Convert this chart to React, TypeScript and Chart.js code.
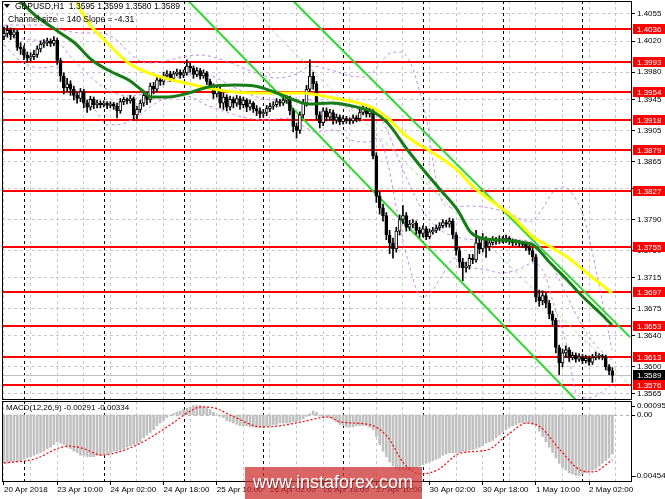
import React, { useEffect, useRef } from 'react';
import { Chart, registerables } from 'chart.js';

Chart.register(...registerables);

const FONT = '"Liberation Sans", Arial, sans-serif';
Chart.defaults.font.family = FONT;
Chart.defaults.font.size = 8;
Chart.defaults.color = '#000';

// GBPUSD H1, bar 0 = 20 Apr 2018 18:00, last bar = 2 May 09:00
const opens = [
  1.4026, 1.4030, 1.4034, 1.4028, 1.4032, 1.4012, 1.4010, 1.4002, 1.3998, 1.4000,
  1.4003, 1.4010, 1.4016, 1.4018, 1.4020, 1.4017, 1.4021, 1.3995, 1.3975, 1.3960,
  1.3965, 1.3958, 1.3950, 1.3946, 1.3955, 1.3940, 1.3935, 1.3945, 1.3938, 1.3940,
  1.3938, 1.3940, 1.3937, 1.3939, 1.3936, 1.3930, 1.3942, 1.3945, 1.3943, 1.3946,
  1.3925, 1.3932, 1.3940, 1.3950, 1.3945, 1.3962, 1.3958, 1.3970, 1.3968, 1.3975,
  1.3978, 1.3972, 1.3978, 1.3980, 1.3976, 1.3979, 1.3988, 1.3985, 1.3977, 1.3982,
  1.3975, 1.3979, 1.3968, 1.3962, 1.3952, 1.3958, 1.3940, 1.3948, 1.3935, 1.3945,
  1.3940, 1.3946, 1.3938, 1.3944, 1.3935, 1.3940, 1.3933, 1.3930, 1.3926, 1.3928,
  1.3933, 1.3936, 1.3938, 1.3942, 1.3940, 1.3944, 1.3946, 1.3930, 1.3910, 1.3905,
  1.3925, 1.3940, 1.3958, 1.3975, 1.3965, 1.3925, 1.3915, 1.3930, 1.3922, 1.3928,
  1.3918, 1.3922, 1.3916, 1.3920, 1.3918, 1.3917, 1.3921, 1.3920, 1.3928, 1.3932,
  1.3926, 1.3930, 1.3872, 1.3820, 1.3805, 1.3795, 1.3770, 1.3760, 1.3752, 1.3775,
  1.3790, 1.3795, 1.3780, 1.3784, 1.3785, 1.3776, 1.3772, 1.3778, 1.3768, 1.3774,
  1.3776, 1.3779, 1.3782, 1.3786, 1.3784, 1.3788, 1.3770, 1.3750, 1.3735, 1.3728,
  1.3730, 1.3740, 1.3738, 1.3760, 1.3752, 1.3765, 1.3755, 1.3760, 1.3764, 1.3762,
  1.3765, 1.3763, 1.3766, 1.3762, 1.3760, 1.3761, 1.3759, 1.3758, 1.3754, 1.3750,
  1.3742, 1.3690, 1.3685, 1.3692, 1.3682, 1.3668, 1.3660, 1.3625, 1.3605, 1.3618,
  1.3622, 1.3612, 1.3615, 1.3610, 1.3613, 1.3608, 1.3611, 1.3606, 1.3612, 1.3614,
  1.3614, 1.3613, 1.3600, 1.3595,
];
const highs = [
  1.4038, 1.4040, 1.4037, 1.4036, 1.4035, 1.4018, 1.4014, 1.4006, 1.4005, 1.4008,
  1.4014, 1.4020, 1.4022, 1.4024, 1.4023, 1.4026, 1.4024, 1.3998, 1.3979, 1.3972,
  1.3969, 1.3962, 1.3954, 1.3959, 1.3958, 1.3944, 1.3949, 1.3948, 1.3944, 1.3943,
  1.3943, 1.3942, 1.3942, 1.3941, 1.3940, 1.3946, 1.3948, 1.3947, 1.3950, 1.3948,
  1.3936, 1.3944, 1.3955, 1.3954, 1.3966, 1.3967, 1.3974, 1.3975, 1.3980, 1.3982,
  1.3981, 1.3981, 1.3984, 1.3983, 1.3983, 1.3996, 1.3992, 1.3988, 1.3986, 1.3985,
  1.3983, 1.3981, 1.3971, 1.3965, 1.3962, 1.3961, 1.3953, 1.3951, 1.3949, 1.3948,
  1.3950, 1.3949, 1.3948, 1.3946, 1.3944, 1.3942, 1.3937, 1.3934, 1.3932, 1.3937,
  1.3940, 1.3942, 1.3946, 1.3945, 1.3947, 1.3950, 1.3949, 1.3933, 1.3914, 1.3929,
  1.3945, 1.3963, 1.3996, 1.3980, 1.3968, 1.3929, 1.3934, 1.3934, 1.3932, 1.3931,
  1.3926, 1.3925, 1.3924, 1.3923, 1.3921, 1.3925, 1.3924, 1.3932, 1.3937, 1.3935,
  1.3934, 1.3933, 1.3876, 1.3826, 1.3810, 1.3799, 1.3776, 1.3766, 1.3780, 1.3796,
  1.3808, 1.3799, 1.3789, 1.3790, 1.3788, 1.3780, 1.3782, 1.3781, 1.3778, 1.3780,
  1.3783, 1.3786, 1.3790, 1.3789, 1.3792, 1.3791, 1.3773, 1.3754, 1.3740, 1.3735,
  1.3745, 1.3745, 1.3776, 1.3768, 1.3772, 1.3768, 1.3764, 1.3768, 1.3767, 1.3769,
  1.3768, 1.3770, 1.3768, 1.3765, 1.3764, 1.3763, 1.3762, 1.3760, 1.3757, 1.3753,
  1.3745, 1.3699, 1.3698, 1.3696, 1.3686, 1.3672, 1.3663, 1.3628, 1.3623, 1.3627,
  1.3625, 1.3619, 1.3618, 1.3617, 1.3616, 1.3615, 1.3614, 1.3616, 1.3619, 1.3617,
  1.3616, 1.3615, 1.3603, 1.3599,
];
const lows = [
  1.4022, 1.4025, 1.4022, 1.4024, 1.4008, 1.4003, 1.3996, 1.3992, 1.3994, 1.3996,
  1.3999, 1.4006, 1.4012, 1.4014, 1.4013, 1.4014, 1.3990, 1.3968, 1.3952, 1.3955,
  1.3950, 1.3944, 1.3940, 1.3942, 1.3934, 1.3928, 1.3931, 1.3933, 1.3934, 1.3934,
  1.3935, 1.3933, 1.3934, 1.3932, 1.3921, 1.3927, 1.3938, 1.3939, 1.3940, 1.3918,
  1.3920, 1.3928, 1.3936, 1.3938, 1.3941, 1.3952, 1.3955, 1.3963, 1.3964, 1.3971,
  1.3968, 1.3969, 1.3975, 1.3972, 1.3973, 1.3976, 1.3980, 1.3972, 1.3974, 1.3971,
  1.3972, 1.3964, 1.3958, 1.3946, 1.3948, 1.3934, 1.3932, 1.3930, 1.3931, 1.3934,
  1.3936, 1.3932, 1.3934, 1.3929, 1.3931, 1.3928, 1.3924, 1.3921, 1.3922, 1.3924,
  1.3929, 1.3932, 1.3935, 1.3936, 1.3937, 1.3940, 1.3925, 1.3903, 1.3895, 1.3901,
  1.3921, 1.3936, 1.3954, 1.3958, 1.3918, 1.3908, 1.3911, 1.3917, 1.3918, 1.3913,
  1.3914, 1.3912, 1.3913, 1.3914, 1.3913, 1.3914, 1.3916, 1.3917, 1.3925, 1.3922,
  1.3922, 1.3868, 1.3812, 1.3797, 1.3788, 1.3764, 1.3746, 1.3740, 1.3748, 1.3770,
  1.3785, 1.3775, 1.3776, 1.3779, 1.3771, 1.3767, 1.3768, 1.3764, 1.3765, 1.3771,
  1.3773, 1.3776, 1.3779, 1.3780, 1.3780, 1.3765, 1.3744, 1.3728, 1.3711, 1.3722,
  1.3726, 1.3733, 1.3735, 1.3746, 1.3748, 1.3741, 1.3750, 1.3757, 1.3758, 1.3759,
  1.3760, 1.3760, 1.3758, 1.3756, 1.3757, 1.3755, 1.3754, 1.3750, 1.3745, 1.3736,
  1.3684, 1.3678, 1.3680, 1.3676, 1.3662, 1.3654, 1.3618, 1.3590, 1.3600, 1.3612,
  1.3607, 1.3609, 1.3606, 1.3607, 1.3604, 1.3605, 1.3602, 1.3603, 1.3609, 1.3610,
  1.3609, 1.3596, 1.3590, 1.3580,
];
const closes = [
  1.4030, 1.4034, 1.4028, 1.4032, 1.4012, 1.4010, 1.4002, 1.3998, 1.4000, 1.4003,
  1.4010, 1.4016, 1.4018, 1.4020, 1.4017, 1.4021, 1.3995, 1.3975, 1.3960, 1.3965,
  1.3958, 1.3950, 1.3946, 1.3955, 1.3940, 1.3935, 1.3945, 1.3938, 1.3940, 1.3938,
  1.3940, 1.3937, 1.3939, 1.3936, 1.3930, 1.3942, 1.3945, 1.3943, 1.3946, 1.3925,
  1.3932, 1.3940, 1.3950, 1.3945, 1.3962, 1.3958, 1.3970, 1.3968, 1.3975, 1.3978,
  1.3972, 1.3978, 1.3980, 1.3976, 1.3979, 1.3988, 1.3985, 1.3977, 1.3982, 1.3975,
  1.3979, 1.3968, 1.3962, 1.3952, 1.3958, 1.3940, 1.3948, 1.3935, 1.3945, 1.3940,
  1.3946, 1.3938, 1.3944, 1.3935, 1.3940, 1.3933, 1.3930, 1.3926, 1.3928, 1.3933,
  1.3936, 1.3938, 1.3942, 1.3940, 1.3944, 1.3946, 1.3930, 1.3910, 1.3905, 1.3925,
  1.3940, 1.3958, 1.3975, 1.3965, 1.3925, 1.3915, 1.3930, 1.3922, 1.3928, 1.3918,
  1.3922, 1.3916, 1.3920, 1.3918, 1.3917, 1.3921, 1.3920, 1.3928, 1.3932, 1.3926,
  1.3930, 1.3872, 1.3820, 1.3805, 1.3795, 1.3770, 1.3760, 1.3752, 1.3775, 1.3790,
  1.3795, 1.3780, 1.3784, 1.3785, 1.3776, 1.3772, 1.3778, 1.3768, 1.3774, 1.3776,
  1.3779, 1.3782, 1.3786, 1.3784, 1.3788, 1.3770, 1.3750, 1.3735, 1.3728, 1.3730,
  1.3740, 1.3738, 1.3760, 1.3752, 1.3765, 1.3755, 1.3760, 1.3764, 1.3762, 1.3765,
  1.3763, 1.3766, 1.3762, 1.3760, 1.3761, 1.3759, 1.3758, 1.3754, 1.3750, 1.3742,
  1.3690, 1.3685, 1.3692, 1.3682, 1.3668, 1.3660, 1.3625, 1.3605, 1.3618, 1.3622,
  1.3612, 1.3615, 1.3610, 1.3613, 1.3608, 1.3611, 1.3606, 1.3612, 1.3614, 1.3614,
  1.3613, 1.3600, 1.3595, 1.3589,
];

// support / resistance levels (red lines)
const levels = [1.4036, 1.3993, 1.3954, 1.3918, 1.3879, 1.3827, 1.3755, 1.3697, 1.3653, 1.3613, 1.3576];
const lastPrice = 1.3589;
const priceTicks = [1.4055, 1.402, 1.398, 1.3945, 1.3905, 1.3865, 1.383, 1.379, 1.375, 1.3715, 1.3675, 1.364, 1.36, 1.3565];

// moving averages, [bar, price]
const slowMa = [
  [21.5, 1.4075], [22.8, 1.40627], [26.4, 1.40382], [29.4, 1.40253], [37.5, 1.39918], [45.3, 1.39763],
  [53.4, 1.39673], [61.5, 1.39596], [69.3, 1.39544], [79.5, 1.39531], [89.4, 1.39531], [99.3, 1.39467],
  [111.2, 1.39338], [115.4, 1.39209], [121.4, 1.38964], [129.2, 1.38758], [136.4, 1.38538], [141.2, 1.38319],
  [146.3, 1.38151], [153.2, 1.37932], [159.2, 1.37674], [163.4, 1.37571], [169.4, 1.37417], [175.4, 1.3721],
  [182.9, 1.36952],
];
const fastMa = [
  [4, 1.4075], [9.3, 1.40537], [16.5, 1.40318], [21.3, 1.40176], [26.4, 1.39957], [32.4, 1.39802],
  [37.5, 1.39699], [41.4, 1.3957], [44.4, 1.3948], [49.5, 1.3948], [55.5, 1.39531], [61.5, 1.39609],
  [69.3, 1.39634], [75.3, 1.39622], [81.3, 1.39544], [87.3, 1.39441], [91.5, 1.39389], [98.4, 1.39402],
  [107.3, 1.39338], [111.2, 1.39286], [115.4, 1.39144], [121.4, 1.38796], [126.2, 1.38538], [131.3, 1.38281],
  [136.4, 1.38023], [140.3, 1.37739], [143.3, 1.37662], [149.3, 1.37636], [155.3, 1.3761], [159.2, 1.37571],
  [164.3, 1.37339], [169.4, 1.3712], [174.2, 1.36901], [179.3, 1.36694], [182.9, 1.3654],
];

// bollinger bands (violet dashed)
const bandUpper = [
  [0, 1.40408], [11.4, 1.40408], [17.4, 1.40344], [23.4, 1.40305], [29.4, 1.40305], [33.9, 1.40215],
  [38.4, 1.40021], [42.9, 1.39918], [47.4, 1.39931], [53.4, 1.39995], [59.4, 1.40021], [63.9, 1.39983],
  [69.9, 1.39892], [75.9, 1.39789], [81.9, 1.39725], [87.9, 1.39776], [92.4, 1.39879], [98.4, 1.39828],
  [104.3, 1.3975], [109.4, 1.39738], [113.3, 1.39931], [116.3, 1.40047], [119.3, 1.4006], [122.3, 1.39918],
  [125.3, 1.39505], [127.4, 1.39119], [129.2, 1.38603], [131.3, 1.38177], [134.3, 1.38061], [140.3, 1.38074],
  [146.3, 1.38048], [152.3, 1.37971], [158.3, 1.37868], [161.3, 1.37997], [165.2, 1.38255], [168.2, 1.38319],
  [171.8, 1.38177], [174.2, 1.37958], [176.3, 1.3761], [179.3, 1.36991], [182.9, 1.36217],
];
const bandMiddle = [
  [0, 1.40279], [8.4, 1.40215], [15.9, 1.40189], [20.4, 1.39983], [26.4, 1.39725], [32.4, 1.39544],
  [38.4, 1.39493], [44.4, 1.3957], [50.4, 1.39699], [56.4, 1.39776], [62.4, 1.3975], [68.4, 1.39622],
  [74.4, 1.39505], [80.4, 1.39441], [86.4, 1.39441], [92.4, 1.39441], [98.4, 1.39389], [107.3, 1.39312],
  [111.8, 1.3926], [114.8, 1.39093], [118.4, 1.38706], [122.3, 1.38319], [126.8, 1.37958], [131.3, 1.37765],
  [137.3, 1.37662], [143.3, 1.37636], [149.3, 1.37636], [155.3, 1.37636], [159.8, 1.37584], [164.3, 1.37352],
  [168.8, 1.36965], [173.3, 1.36578], [177.8, 1.36282], [182.9, 1.36088],
];
const bandLower = [
  [0, 1.4015], [5.4, 1.39931], [11.4, 1.39854], [15.9, 1.39879], [18.9, 1.39673], [23.4, 1.39505],
  [27.9, 1.39286], [30.9, 1.39119], [35.4, 1.39132], [39.9, 1.39222], [44.4, 1.39364], [48.9, 1.39467],
  [54.9, 1.39493], [60.9, 1.39377], [66.9, 1.39286], [72.9, 1.39209], [78.9, 1.39183], [84.9, 1.39209],
  [89.4, 1.39119], [93.9, 1.39028], [99.3, 1.39054], [104.3, 1.38925], [109.4, 1.38899], [112.4, 1.38951],
  [115.4, 1.38629], [119.3, 1.37765], [122.3, 1.37249], [125.3, 1.36901], [128.3, 1.36952], [131.3, 1.37146],
  [135.8, 1.37404], [140.3, 1.37288], [145.4, 1.37249], [149.3, 1.3721], [154.4, 1.37249], [159.2, 1.37339],
  [162.8, 1.37184], [165.2, 1.36823], [169.4, 1.36256], [172.4, 1.35637], [176.3, 1.35598], [179.3, 1.35661],
  [182.9, 1.35766],
];

// regression channel (size 140, slope -4.31)
const chanUpper = [[86.4, 1.40743], [188.3, 1.36383]];
const chanMiddle = [[71.4, 1.40731], [188.3, 1.35764]];
const chanLower = [[55.2, 1.40731], [172.7, 1.35545]];

// MACD(12,26,9)
const macdHist = [
  -0.0036, -0.0036, -0.0035, -0.0035, -0.0034, -0.0034, -0.0033, -0.0032, -0.0031, -0.0030,
  -0.0029, -0.0028, -0.0027, -0.0025, -0.0024, -0.0022, -0.0020, -0.0021, -0.0022, -0.0024,
  -0.0025, -0.0027, -0.0028, -0.0030, -0.0030, -0.0031, -0.0031, -0.0031, -0.0030, -0.0030,
  -0.0030, -0.0029, -0.0028, -0.0027, -0.0027, -0.0026, -0.0025, -0.0024, -0.0023, -0.0022,
  -0.0021, -0.0020, -0.0017, -0.0015, -0.0013, -0.0011, -0.0008, -0.0006, -0.0004, -0.0002,
  0.0000, 0.0001, 0.0002, 0.0003, 0.0004, 0.0005, 0.0006, 0.0007, 0.0007, 0.0007,
  0.0006, 0.0006, 0.0004, 0.0002, 0.0000, -0.0001, -0.0002, -0.0004, -0.0005, -0.0006,
  -0.0007, -0.0008, -0.0008, -0.0008, -0.0009, -0.0009, -0.0009, -0.0009, -0.0009, -0.0008,
  -0.0008, -0.0007, -0.0007, -0.0006, -0.0006, -0.0006, -0.0006, -0.0005, -0.0005, -0.0004,
  -0.0003, -0.0001, 0.0001, 0.0003, 0.0002, -0.0001, -0.0002, -0.0001, -0.0002, -0.0003,
  -0.0005, -0.0007, -0.0008, -0.0009, -0.0009, -0.0009, -0.0008, -0.0008, -0.0008, -0.0008,
  -0.0009, -0.0011, -0.0016, -0.0022, -0.0027, -0.0031, -0.0035, -0.0038, -0.0040, -0.0041,
  -0.0041, -0.0041, -0.0041, -0.0040, -0.0039, -0.0038, -0.0037, -0.0036, -0.0035, -0.0034,
  -0.0033, -0.0032, -0.0030, -0.0029, -0.0028, -0.0028, -0.0028, -0.0028, -0.0027, -0.0027,
  -0.0026, -0.0026, -0.0025, -0.0024, -0.0023, -0.0021, -0.0020, -0.0019, -0.0017, -0.0015,
  -0.0013, -0.0011, -0.0009, -0.0008, -0.0007, -0.0006, -0.0006, -0.0006, -0.0006, -0.0007,
  -0.0008, -0.0012, -0.0016, -0.0020, -0.0024, -0.0028, -0.0032, -0.0036, -0.0039, -0.0041,
  -0.0043, -0.0044, -0.0045, -0.0045, -0.0044, -0.0043, -0.0042, -0.0041, -0.0040, -0.0038,
  -0.0036, -0.0034, -0.0032, -0.0029,
];
const macdSignal = [
  [0, -0.00357], [9.3, -0.00327], [16.5, -0.00246], [19.5, -0.00231], [23.4, -0.00246], [29.4, -0.00298],
  [33.3, -0.00283], [39.3, -0.00231], [45.3, -0.00149], [51.3, -0.00052], [55.5, 0.00022], [59.4, 0.0006],
  [63.3, 0.00052], [69.3, -0.00015], [77.4, -0.00089], [82.5, -0.00082], [89.4, -0.00052], [97.5, -0.00015],
  [101.3, -0.00052], [110.3, -0.00074], [115.4, -0.00164], [120.2, -0.00357], [125.3, -0.00439], [130.4, -0.00409],
  [137.3, -0.00283], [145.4, -0.0026], [151.4, -0.00149], [157.4, -0.0006], [161.3, -0.00089], [167.3, -0.0026],
  [173.3, -0.00409], [177.2, -0.00424], [183, -0.00334],
];
const macdTicks = [0.00095, 0, -0.00454];

// time axis
const gridBars = [0, 8, 16, 24, 32, 40, 48, 56, 64, 72, 80, 88, 96, 104, 112, 120, 128, 136, 144, 152, 160, 168, 176, 184];
const labelBars = [0, 16, 32, 48, 64, 80, 96, 112, 128, 144, 160, 176];
const dateLabels = [
  '20 Apr 2018', '23 Apr 10:00', '24 Apr 02:00', '24 Apr 18:00', '25 Apr 10:00', '26 Apr 02:00',
  '26 Apr 18:00', '27 Apr 10:00', '30 Apr 02:00', '30 Apr 18:00', '1 May 10:00', '2 May 02:00',
];
const daySeparators = [6, 30, 54, 78, 102, 126, 150, 174];

const X_MIN = -0.6;
const X_MAX = 188.9;
const PRICE_MIN = 1.355725;
const PRICE_MAX = 1.407176;
const MACD_MIN = -0.004987;
const MACD_MAX = 0.001042;

const pts = (a: number[][]) => a.map(([x, y]) => ({ x, y }));

const lineSet = (data: number[][], color: string, width: number, dash: number[], order: number, smooth = true) => ({
  type: 'line',
  data: pts(data),
  borderColor: color,
  borderWidth: width,
  borderDash: dash,
  pointRadius: 0,
  fill: false,
  cubicInterpolationMode: smooth ? 'monotone' : 'default',
  order,
});

const xAxis = (withLabels: boolean) => ({
  type: 'linear',
  min: X_MIN,
  max: X_MAX,
  offset: false,
  afterBuildTicks: (s: any) => {
    s.ticks = gridBars.map((v) => ({ value: v }));
  },
  afterFit: (s: any) => {
    s.height = withLabels ? 17 : 0;
    s.paddingLeft = 0;
    s.paddingRight = 0;
  },
  grid: {
    color: '#c8c8c8',
    offset: false,
    drawTicks: withLabels,
    tickLength: 3,
    tickBorderDash: [],
    tickColor: (c: any) => (c.tick && labelBars.includes(c.tick.value) ? '#000' : 'rgba(0,0,0,0)'),
  },
  border: { display: false, dash: [3, 3] },
  ticks: {
    display: withLabels,
    autoSkip: false,
    maxRotation: 0,
    minRotation: 0,
    align: 'start',
    padding: 0,
    color: '#000',
    font: { family: FONT, size: 8 },
    callback: (v: any) => {
      const k = labelBars.indexOf(v);
      return k >= 0 ? dateLabels[k] : '';
    },
  },
});

const drawSeparators = (chart: any) => {
  const { ctx, chartArea: a, scales } = chart;
  ctx.save();
  ctx.strokeStyle = '#000';
  ctx.lineWidth = 1;
  ctx.setLineDash([3, 3]);
  daySeparators.forEach((b) => {
    const px = Math.round(scales.x.getPixelForValue(b)) + 0.5;
    ctx.beginPath();
    ctx.moveTo(px, a.top);
    ctx.lineTo(px, a.bottom);
    ctx.stroke();
  });
  ctx.restore();
};

const drawFrame = (chart: any) => {
  const { ctx, chartArea: a } = chart;
  ctx.save();
  ctx.strokeStyle = '#000';
  ctx.lineWidth = 1;
  ctx.strokeRect(a.left + 0.5, a.top + 0.5, a.right - a.left - 1, a.bottom - a.top - 1);
  ctx.restore();
};

const priceTag = (ctx: any, x: number, y: number, text: string, bg: string) => {
  ctx.fillStyle = bg;
  ctx.fillRect(x, y - 5, 665 - x, 10);
  ctx.fillStyle = '#fff';
  ctx.textAlign = 'left';
  ctx.textBaseline = 'middle';
  ctx.fillText(text, x + 4, y + 0.5);
};

const mainDecor = {
  id: 'mainDecor',
  beforeDatasetsDraw(chart: any) {
    const { ctx, chartArea: a, scales } = chart;
    drawSeparators(chart);
    ctx.save();
    const py0 = Math.round(scales.y.getPixelForValue(lastPrice)) + 0.5;
    ctx.strokeStyle = '#c0c0c0';
    ctx.lineWidth = 1;
    ctx.beginPath();
    ctx.moveTo(a.left, py0);
    ctx.lineTo(a.right, py0);
    ctx.stroke();
    ctx.strokeStyle = '#ff0000';
    ctx.lineWidth = 2;
    levels.forEach((v) => {
      const py = Math.round(scales.y.getPixelForValue(v));
      ctx.beginPath();
      ctx.moveTo(a.left, py);
      ctx.lineTo(a.right, py);
      ctx.stroke();
    });
    ctx.restore();
  },
  afterDraw(chart: any) {
    const { ctx, chartArea: a, scales } = chart;
    drawFrame(chart);
    ctx.save();
    ctx.font = `8px ${FONT}`;
    levels.forEach((v) => priceTag(ctx, a.right + 1, Math.round(scales.y.getPixelForValue(v)), v.toFixed(4), '#ff0000'));
    priceTag(ctx, a.right + 1, Math.round(scales.y.getPixelForValue(lastPrice)), lastPrice.toFixed(4), '#000');
    // header
    ctx.fillStyle = '#000';
    ctx.beginPath();
    ctx.moveTo(4, 4);
    ctx.lineTo(10, 4);
    ctx.lineTo(7, 8);
    ctx.closePath();
    ctx.fill();
    ctx.font = `8.5px ${FONT}`;
    ctx.textAlign = 'left';
    ctx.textBaseline = 'middle';
    ctx.fillText('GBPUSD,H1  1.3595 1.3599 1.3580 1.3589', 15, 7);
    ctx.fillText('Channel size = 140 Slope = -4.31', 8, 20);
    ctx.restore();
  },
};

const macdDecor = {
  id: 'macdDecor',
  beforeDatasetsDraw(chart: any) {
    const { ctx, chartArea: a, scales } = chart;
    drawSeparators(chart);
    ctx.save();
    const zy = Math.round(scales.y.getPixelForValue(0)) + 0.5;
    ctx.strokeStyle = '#b4b4b4';
    ctx.setLineDash([3, 3]);
    ctx.beginPath();
    ctx.moveTo(a.left, zy);
    ctx.lineTo(a.right, zy);
    ctx.stroke();
    ctx.restore();
  },
  afterDraw(chart: any) {
    const { ctx, chartArea: a, scales } = chart;
    drawFrame(chart);
    ctx.save();
    ctx.font = `8px ${FONT}`;
    ctx.fillStyle = '#000';
    ctx.strokeStyle = '#000';
    ctx.textAlign = 'left';
    ctx.textBaseline = 'middle';
    macdTicks.forEach((v, k) => {
      const py = Math.round(scales.y.getPixelForValue(v));
      const ty = k === 0 ? a.top + 5 : py;
      ctx.beginPath();
      ctx.moveTo(a.right, ty + 0.5);
      ctx.lineTo(a.right + 3, ty + 0.5);
      ctx.stroke();
      const txt = v === 0 ? '0.00' : v.toFixed(5);
      ctx.fillText(txt, v < 0 ? a.right + 2 : a.right + 5, ty);
    });
    ctx.fillText('MACD(12,26,9) -0.00291 -0.00334', 6, a.top + 7);
    // watermark
    ctx.fillStyle = 'rgba(205, 50, 50, 0.75)';
    ctx.fillRect(245, 66, 177, 32);
    ctx.font = `18px ${FONT}`;
    ctx.fillStyle = '#fff';
    ctx.textAlign = 'center';
    ctx.shadowColor = 'rgba(0,0,0,0.35)';
    ctx.shadowOffsetX = 1;
    ctx.shadowOffsetY = 1;
    ctx.fillText('www.instaforex.com', 333, 82);
    ctx.restore();
  },
};

export default function App() {
  const mainRef = useRef<HTMLCanvasElement>(null);
  const macdRef = useRef<HTMLCanvasElement>(null);

  useEffect(() => {
    document.body.style.margin = '0';
    const bars = closes.map((_, i) => i);
    let main: Chart | null = null;
    let macd: Chart | null = null;

    if (mainRef.current) {
      main = new Chart(mainRef.current, {
        type: 'bar',
        data: {
          datasets: [
            lineSet(fastMa, '#167c16', 3, [], 0),
            lineSet(slowMa, '#ffff00', 3, [], 1),
            {
              type: 'bar',
              data: bars.map((i) => ({ x: i, y: [Math.min(opens[i], closes[i]), Math.max(opens[i], closes[i])] })),
              backgroundColor: bars.map((i) => (closes[i] >= opens[i] ? '#ffffff' : '#000000')),
              borderColor: '#000',
              borderWidth: 1,
              borderSkipped: false,
              barThickness: 3,
              minBarLength: 1,
              grouped: false,
              order: 2,
            },
            {
              type: 'bar',
              data: bars.map((i) => ({ x: i, y: [lows[i], highs[i]] })),
              backgroundColor: '#000',
              barThickness: 1,
              grouped: false,
              order: 3,
            },
            lineSet(bandUpper, '#c58bf0', 1, [3, 3], 4),
            lineSet(bandMiddle, '#c58bf0', 1, [3, 3], 4),
            lineSet(bandLower, '#c58bf0', 1, [3, 3], 4),
            lineSet(chanUpper, '#2bd92b', 2, [], 5, false),
            lineSet(chanMiddle, '#95e895', 1, [4, 3], 5, false),
            lineSet(chanLower, '#2bd92b', 2, [], 5, false),
          ] as any,
        },
        options: {
          animation: false,
          responsive: false,
          maintainAspectRatio: false,
          events: [],
          layout: { padding: { left: 2, top: 1, bottom: 1, right: 0 } },
          plugins: { legend: { display: false }, tooltip: { enabled: false } },
          scales: {
            x: xAxis(false) as any,
            y: {
              type: 'linear',
              position: 'right',
              min: PRICE_MIN,
              max: PRICE_MAX,
              afterBuildTicks: (s: any) => {
                s.ticks = priceTicks.map((v) => ({ value: v }));
              },
              afterFit: (s: any) => {
                s.width = 33;
                s.paddingTop = 0;
                s.paddingBottom = 0;
              },
              grid: { color: '#c8c8c8', tickColor: '#000', tickLength: 3, tickBorderDash: [] },
              border: { display: false, dash: [3, 3] },
              ticks: {
                padding: 2,
                color: '#000',
                font: { family: FONT, size: 8 },
                callback: (v: any) => Number(v).toFixed(4),
              },
            } as any,
          },
        },
        plugins: [mainDecor],
      });
    }

    if (macdRef.current) {
      macd = new Chart(macdRef.current, {
        type: 'bar',
        data: {
          datasets: [
            lineSet(macdSignal, '#ff0000', 1.2, [2, 2], 0),
            {
              type: 'bar',
              data: bars.map((i) => ({ x: i, y: macdHist[i] })),
              backgroundColor: '#c0c0c0',
              barThickness: 2,
              grouped: false,
              order: 1,
            },
          ] as any,
        },
        options: {
          animation: false,
          responsive: false,
          maintainAspectRatio: false,
          events: [],
          layout: { padding: { left: 2, top: 0, bottom: 0, right: 33 } },
          plugins: { legend: { display: false }, tooltip: { enabled: false } },
          scales: {
            x: xAxis(true) as any,
            y: { type: 'linear', display: false, min: MACD_MIN, max: MACD_MAX },
          },
        },
        plugins: [macdDecor],
      });
    }

    return () => {
      if (main) main.destroy();
      if (macd) macd.destroy();
    };
  }, []);

  return (
    <div style={{ width: 665, height: 499, background: '#fff' }}>
      <canvas ref={mainRef} width={665} height={401} style={{ display: 'block' }} />
      <canvas ref={macdRef} width={665} height={98} style={{ display: 'block' }} />
    </div>
  );
}
